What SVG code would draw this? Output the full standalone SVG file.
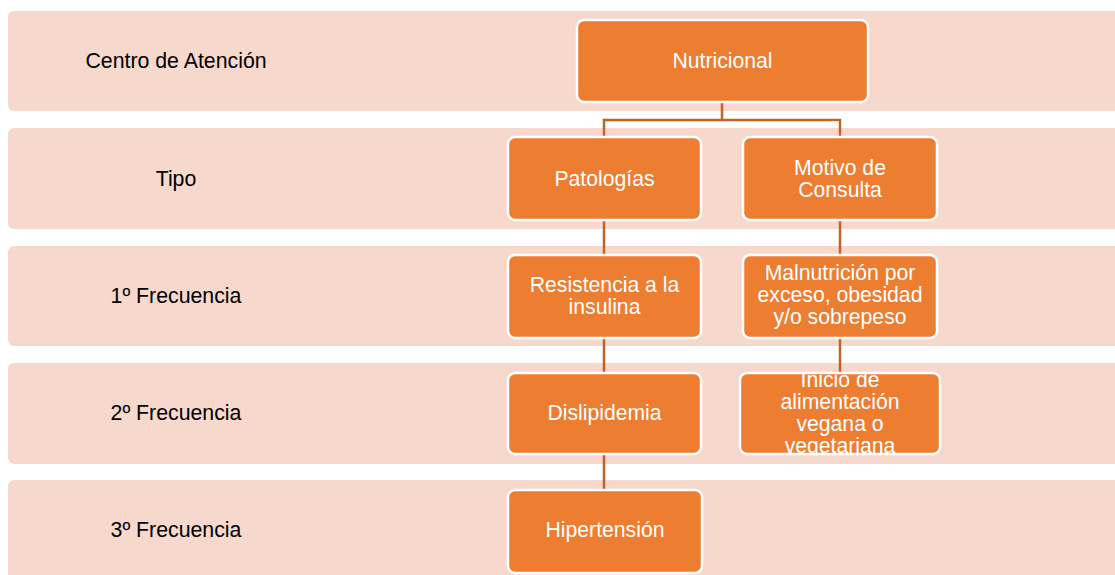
<svg xmlns="http://www.w3.org/2000/svg" width="1115" height="575" viewBox="0 0 1115 575">
<style>
.band{fill:#F7D8CD}
.lbl{font-family:"Liberation Sans",Arial,sans-serif;font-size:21.3px;fill:#000;text-anchor:middle}
.box{fill:#ED7D31;stroke:#fff;stroke-width:2.5}
.t{font-family:"Liberation Sans",Arial,sans-serif;font-size:21.2px;fill:#fff;text-anchor:middle}
.c{fill:none;stroke:#C0622C;stroke-width:2.5}
</style>
<defs>
<clipPath id="clipInicio"><rect x="740" y="373" width="200" height="81"/></clipPath>
</defs>
<rect width="1115" height="575" fill="#fff"/>
<g id="bands">
<rect class="band" x="8" y="11" width="1120" height="100" rx="6"/>
<rect class="band" x="8" y="128" width="1120" height="101" rx="6"/>
<rect class="band" x="8" y="246" width="1120" height="100" rx="6"/>
<rect class="band" x="8" y="363" width="1120" height="101" rx="6"/>
<rect class="band" x="8" y="480" width="1120" height="110" rx="6"/>
</g>
<g id="labels">
<text class="lbl" x="176" y="68">Centro de Atención</text>
<text class="lbl" x="176" y="186">Tipo</text>
<text class="lbl" x="176" y="303">1º Frecuencia</text>
<text class="lbl" x="176" y="420">2º Frecuencia</text>
<text class="lbl" x="176" y="537">3º Frecuencia</text>
</g>
<g id="connectors">
<path class="c" d="M722 102 V120 M604 137 V120 H840 V137"/>
<path class="c" d="M604 220 V255 M604 338 V373 M604 454 V490"/>
<path class="c" d="M840 220 V255 M840 338 V373"/>
</g>
<g id="n-nutricional">
<rect class="box" x="577" y="20" width="291" height="82" rx="7"/>
<text class="t" x="722.5" y="68">Nutricional</text>
</g>
<g id="n-patologias">
<rect class="box" x="508" y="137" width="193" height="83" rx="7"/>
<text class="t" x="604.5" y="186">Patologías</text>
</g>
<g id="n-motivo">
<rect class="box" x="743" y="137" width="194" height="83" rx="7"/>
<text class="t" x="840" y="175">Motivo de</text>
<text class="t" x="840" y="197">Consulta</text>
</g>
<g id="n-resistencia">
<rect class="box" x="508" y="255" width="193" height="83" rx="7"/>
<text class="t" x="604.5" y="292">Resistencia a la</text>
<text class="t" x="604.5" y="314">insulina</text>
</g>
<g id="n-malnutricion">
<rect class="box" x="743" y="255" width="194" height="83" rx="7"/>
<text class="t" x="840" y="280">Malnutrición por</text>
<text class="t" x="840" y="302">exceso, obesidad</text>
<text class="t" x="840" y="324">y/o sobrepeso</text>
</g>
<g id="n-dislipidemia">
<rect class="box" x="508" y="373" width="193" height="81" rx="7"/>
<text class="t" x="604.5" y="420">Dislipidemia</text>
</g>
<g id="n-inicio">
<rect class="box" x="740" y="373" width="200" height="81" rx="7"/>
<g clip-path="url(#clipInicio)">
<text class="t" x="840" y="387">Inicio de</text>
<text class="t" x="840" y="409">alimentación</text>
<text class="t" x="840" y="431">vegana o</text>
<text class="t" x="840" y="453">vegetariana</text>
</g>
</g>
<g id="n-hipertension">
<rect class="box" x="508" y="490" width="194" height="83" rx="7"/>
<text class="t" x="605" y="537">Hipertensión</text>
</g>
</svg>
